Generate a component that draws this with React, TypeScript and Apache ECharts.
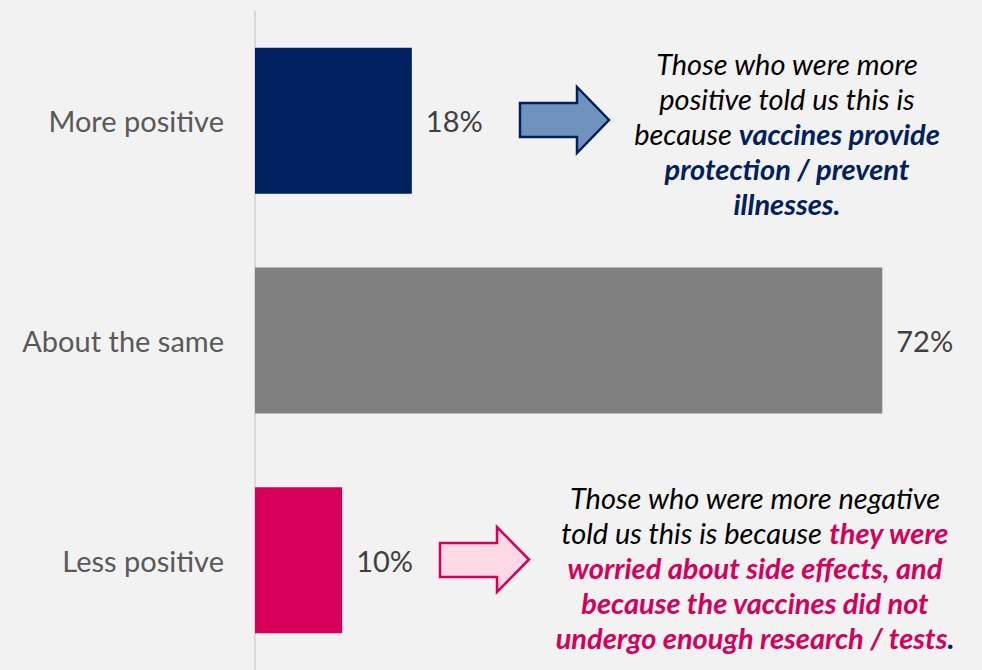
import React, { useEffect, useRef } from "react";
import * as echarts from "echarts";

const categories = ["More positive", "About the same", "Less positive"];
const values = [18, 72, 10];
const barColors = ["#002060", "#808080", "#D6005A"];

const FONT = "Lato, 'Open Sans', sans-serif";
const NAVY = "#002060";
const PINK = "#D6005A";
const NOTE_SIZE = 29;

type Seg = [string, "n" | "b" | "p" | "d"];
const topNote: Seg[][] = [
  [["Those who were more", "n"]],
  [["positive told us this is", "n"]],
  [["because ", "n"], ["vaccines provide", "b"]],
  [["protection / prevent", "b"]],
  [["illnesses.", "b"]],
];
const bottomNote: Seg[][] = [
  [["Those who were more negative", "n"]],
  [["told us this is because ", "n"], ["they were", "p"]],
  [["worried about side effects, and", "p"]],
  [["because the vaccines did not", "p"]],
  [["undergo enough research / tests", "p"], [".", "d"]],
];

const rich = {
  n: { fontFamily: FONT, fontStyle: "italic", fontSize: NOTE_SIZE, fill: "#000000" },
  b: { fontFamily: FONT, fontStyle: "italic", fontWeight: "bold", fontSize: NOTE_SIZE, fill: NAVY },
  p: { fontFamily: FONT, fontStyle: "italic", fontWeight: "bold", fontSize: NOTE_SIZE, fill: PINK },
  d: { fontFamily: FONT, fontStyle: "italic", fontWeight: "bold", fontSize: NOTE_SIZE, fill: NAVY },
};

function noteLines(lines: Seg[][], cx: number, y0: number, step: number) {
  return lines.map((line, i) => ({
    type: "text",
    x: cx,
    y: y0 + i * step,
    style: {
      text: line.map(([t, k]) => `{${k}|${t}}`).join(""),
      rich,
      textAlign: "center",
      textVerticalAlign: "middle",
    },
  }));
}

function arrow(x0: number, x1: number, x2: number, by0: number, by1: number, hy0: number, hy1: number) {
  const my = (hy0 + hy1) / 2;
  return [
    [x0, by0], [x1, by0], [x1, hy0], [x2, my], [x1, hy1], [x1, by1], [x0, by1],
  ];
}

export default function App() {
  const ref = useRef<HTMLDivElement>(null);
  useEffect(() => {
    const chart = echarts.init(ref.current!, undefined, { renderer: "svg" });
    chart.setOption({
      animation: false,
      backgroundColor: "#F2F2F2",
      grid: { left: 255, top: 11, width: 697, height: 661 },
      xAxis: {
        type: "value",
        min: 0,
        max: 80,
        show: false,
      },
      yAxis: {
        type: "category",
        data: categories,
        inverse: true,
        axisLine: { show: true, lineStyle: { color: "#D9D9D9", width: 2 } },
        axisTick: { show: false },
        axisLabel: {
          margin: 31,
          fontFamily: FONT,
          fontSize: 29,
          color: "#595959",
        },
      },
      series: [
        {
          type: "bar",
          barWidth: 146,
          data: values.map((v, i) => ({ value: v, itemStyle: { color: barColors[i] } })),
          label: {
            show: true,
            position: "right",
            distance: 14,
            formatter: "{c}%",
            fontFamily: FONT,
            fontSize: 29,
            color: "#404040",
          },
        },
      ],
      graphic: [
        {
          type: "polygon",
          shape: { points: arrow(520, 577, 609, 103, 137, 87, 153) },
          style: { fill: "#7093BD", stroke: NAVY, lineWidth: 2.5 },
        },
        {
          type: "polygon",
          shape: { points: arrow(440, 497, 529, 543, 577, 527, 592) },
          style: { fill: "#FFD9E6", stroke: PINK, lineWidth: 2.5 },
        },
        ...noteLines(topNote, 787, 63, 35),
        ...noteLines(bottomNote, 755, 497, 35),
      ],
    });
    return () => chart.dispose();
  }, []);
  return (
    <div
      ref={ref}
      style={{ position: "fixed", left: 0, top: 0, width: 982, height: 670 }}
    />
  );
}
